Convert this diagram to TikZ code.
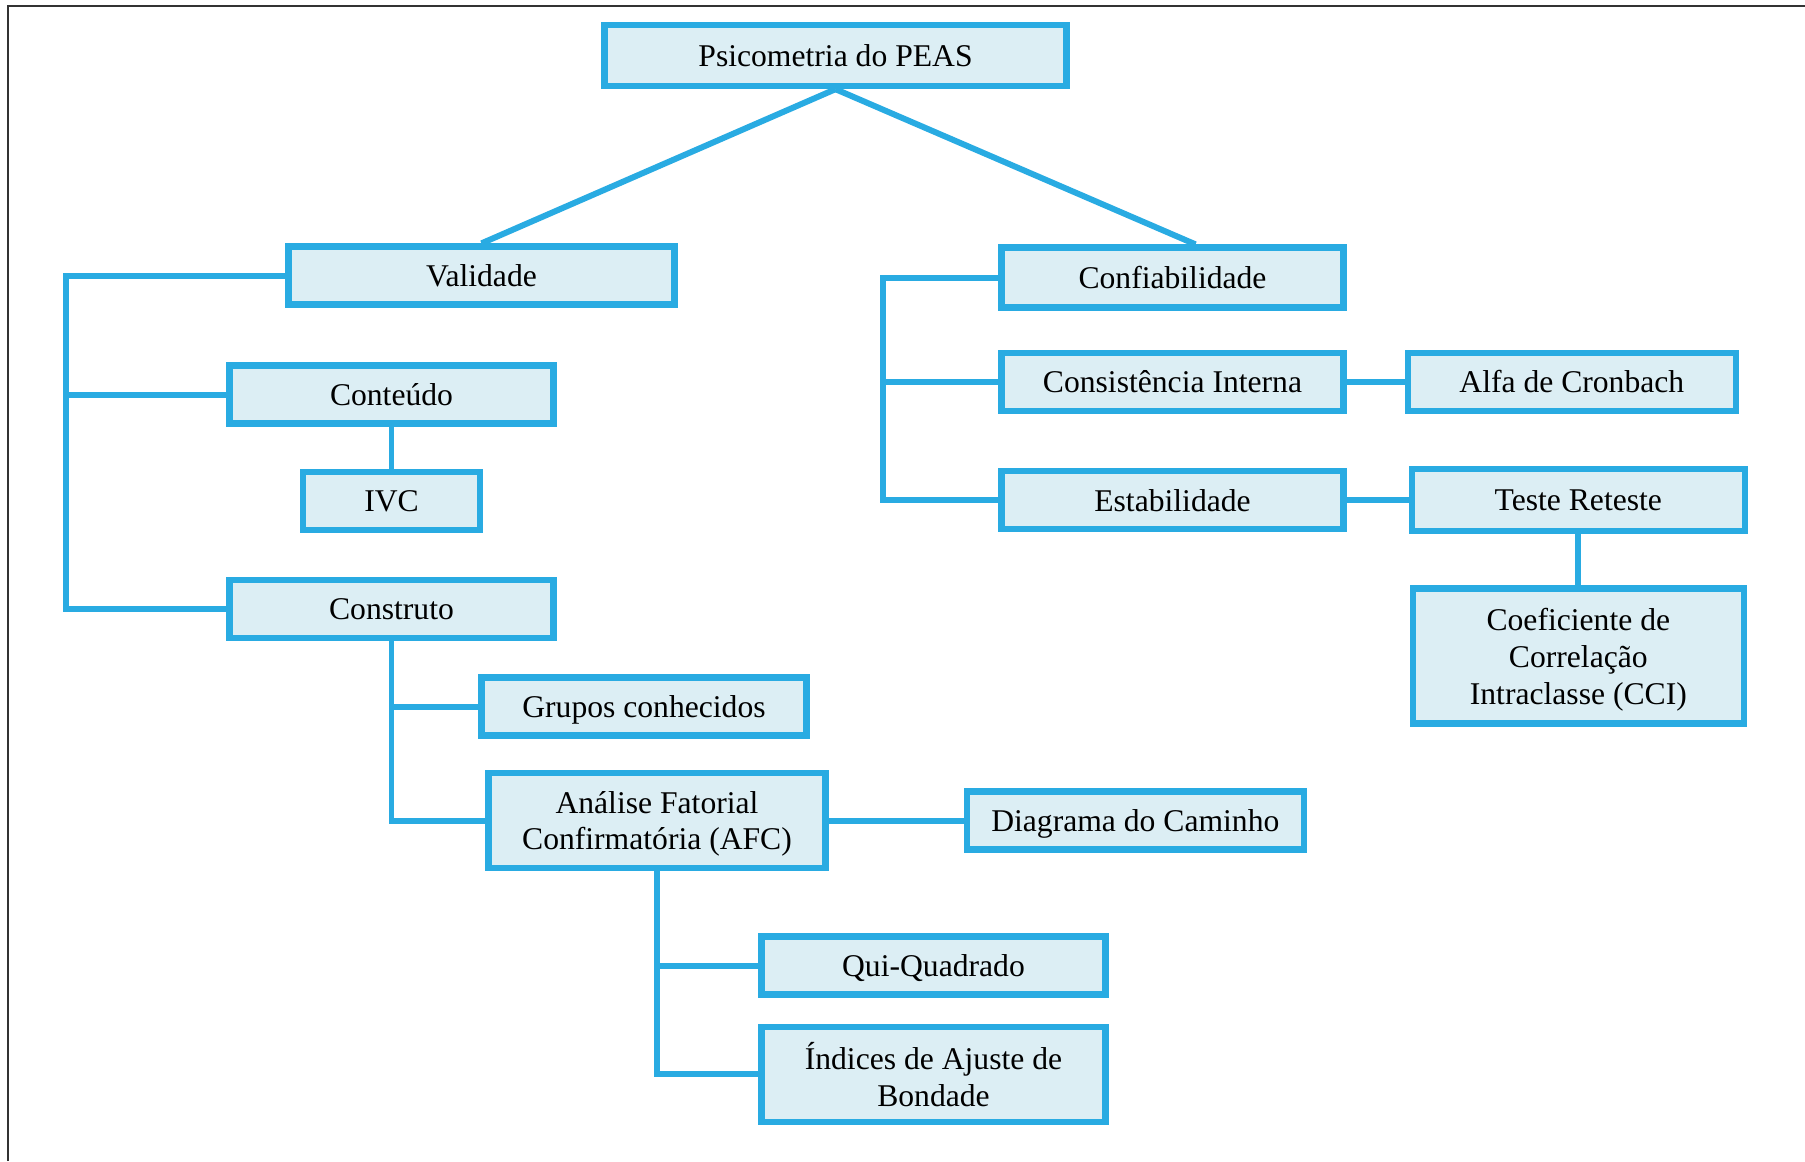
\documentclass[tikz,border=0pt]{standalone}
\usepackage{fontspec}
\setmainfont{Liberation Serif}
\usetikzlibrary{positioning,calc}
\definecolor{peasblue}{HTML}{29ABE2}
\definecolor{peasfill}{HTML}{DCEEF4}
\definecolor{framegray}{HTML}{333333}
\tikzstyle{pbox}=[rectangle, draw=peasblue, fill=peasfill, line width=1.8pt, minimum height=5.8mm,
inner sep=2pt, text depth=0pt, align=center, font=\fontsize{9}{10.5}\selectfont]
\tikzstyle{line}=[-, line width=1.7pt, peasblue]

\begin{document}
\begin{tikzpicture}[x=0.1mm, y=-0.1mm, node distance=0mm]

    \useasboundingbox (0,0) rectangle (1805,1161);
    \draw[framegray, line width=0.8pt] (8,1161) -- (8,6) -- (1805,6);

    \node (psico) [pbox, minimum width=46.2mm, minimum height=6.1mm] at (835.5,55.5) {Psicometria do PEAS};

% VALIDADE
    \node (valid) [pbox, minimum width=38.6mm] at (481.5,275.5) {Validade};
    \node (conteudo) [pbox, minimum width=32.4mm] at (391.5,394.5) {Conteúdo};
    \node (ivc) [pbox, minimum width=17.7mm, below=4.2mm of conteudo] {IVC};
    \node (construto) [pbox, minimum width=32.4mm, below=4.4mm of ivc] {Construto};
    \node (grupos) [pbox, minimum width=32.5mm] at (644,706.5) {Grupos conhecidos};
    \node (afc) [pbox, minimum width=33.7mm, minimum height=9.5mm] at (657,820.5)
        {Análise Fatorial\\ Confirmatória (AFC)};
    \node (diagrama) [pbox, minimum width=33.7mm, right=13.5mm of afc] {Diagrama do Caminho};
    \node (qui) [pbox, minimum width=34.4mm] at (933.5,965.5) {Qui-Quadrado};
    \node (indices) [pbox, minimum width=34.4mm, minimum height=9.5mm, below=2.6mm of qui]
        {Índices de Ajuste de\\ Bondade};
%%%% end VALIDADE

% CONFIABILIDADE
    \node (confiab) [pbox, minimum width=34.2mm, minimum height=6.0mm] at (1172.5,277.5) {Confiabilidade};
    \node (consist) [pbox, minimum width=34.2mm, below=3.9mm of confiab] {Consistência Interna};
    \node (estab) [pbox, minimum width=34.2mm, below=5.4mm of consist] {Estabilidade};
    \node (alfa) [pbox, minimum width=32.8mm, right=5.8mm of consist] {Alfa de Cronbach};
    \node (teste) [pbox, minimum width=33.3mm, minimum height=6.2mm, right=6.2mm of estab] {Teste Reteste};
    \node (cci) [pbox, minimum width=33.1mm, minimum height=13.5mm, below=5.1mm of teste]
        {Coeficiente de\\ Correlação\\ Intraclasse (CCI)};
%%%% end CONFIABILIDADE

   \coordinate (lbr) at (66,0);
   \coordinate (rbr) at (883,0);

   \draw[line] (psico.south) -- (valid.north);
   \draw[line] (psico.south) -- ($(confiab.north)+(23,0)$);

%validade lines
   \draw[line] (valid.west) -- (valid.west -| lbr) |- (construto.west);
   \draw[line] (conteudo.west) -- (conteudo.west -| lbr);
   \draw[line] (conteudo.south) -- (ivc.north);
   \draw[line] (construto.south) |- (afc.west);
   \draw[line] (grupos.west) -- (grupos.west -| construto.south);
   \draw[line] (afc.east) -- (diagrama.west);
   \draw[line] (afc.south) |- (indices.west);
   \draw[line] (qui.west) -- (qui.west -| afc.south);

%confiabilidade lines
   \draw[line] (confiab.west) -- (confiab.west -| rbr) |- (estab.west);
   \draw[line] (consist.west) -- (consist.west -| rbr);
   \draw[line] (consist.east) -- (alfa.west);
   \draw[line] (estab.east) -- (teste.west);
   \draw[line] (teste.south) -- (cci.north);

\end{tikzpicture}
\end{document}
